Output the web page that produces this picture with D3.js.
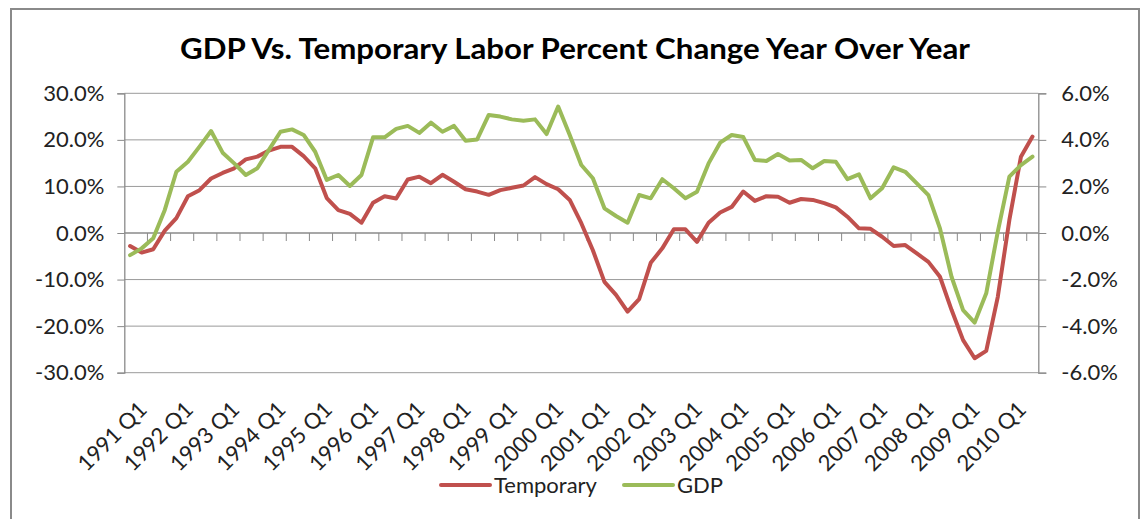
<!DOCTYPE html>
<html>
<head>
    <title>GDP Vs. Temporary Labor Percent Change Year Over Year</title>
    <script src="https://d3js.org/d3.v7.min.js"></script>
    <style>
        body { margin: 0; background: white; }
        svg { display: block; }
        .tick text, .lbl { font-family: Lato, 'Open Sans', sans-serif; fill: #222; }
        .grid { stroke: #9a9a9a; stroke-width: 1px; }
    </style>
</head>
<body>
    <svg width="1144" height="519"></svg>
    <script>
        // quarters 1991 Q1 .. 2010 Q3
        const years = d3.range(1991, 2011);
        const quarters = [];
        years.forEach(y => [1, 2, 3, 4].forEach(q => quarters.push(y + " Q" + q)));
        quarters.length = 79;

        // Temporary labor, % change y/y (left axis)
        const temporary = [
            -2.8, -4.2, -3.5, 0.5, 3.2, 7.9, 9.2, 11.7, 12.9, 13.9,
            15.8, 16.4, 17.7, 18.5, 18.5, 16.5, 13.9, 7.5, 4.9, 4.1,
            2.2, 6.5, 7.9, 7.4, 11.5, 12.1, 10.7, 12.5, 11.0, 9.4,
            8.9, 8.2, 9.2, 9.7, 10.2, 12.0, 10.5, 9.4, 7.1, 2.1,
            -3.7, -10.5, -13.3, -16.9, -14.2, -6.4, -3.3, 0.8, 0.8, -1.9,
            2.2, 4.4, 5.6, 8.9, 6.9, 7.9, 7.8, 6.5, 7.3, 7.1,
            6.4, 5.5, 3.5, 1.0, 0.9, -0.8, -2.8, -2.6, -4.4, -6.2,
            -9.4, -16.5, -23.0, -26.9, -25.3, -13.7, 2.8, 16.4, 20.7
        ];

        // GDP, % change y/y (right axis)
        const gdp = [
            -0.95, -0.66, -0.23, 0.99, 2.63, 3.06, 3.71, 4.38, 3.45, 2.99,
            2.49, 2.78, 3.57, 4.35, 4.45, 4.21, 3.49, 2.28, 2.49, 2.02,
            2.49, 4.11, 4.11, 4.47, 4.60, 4.30, 4.74, 4.35, 4.60, 3.96,
            4.02, 5.07, 5.00, 4.88, 4.82, 4.88, 4.25, 5.43, 4.21, 2.92,
            2.35, 1.06, 0.73, 0.44, 1.63, 1.49, 2.31, 1.92, 1.49, 1.77,
            2.99, 3.88, 4.21, 4.12, 3.14, 3.09, 3.39, 3.11, 3.14, 2.78,
            3.09, 3.06, 2.31, 2.52, 1.49, 1.92, 2.82, 2.63, 2.13, 1.63,
            0.20, -1.88, -3.31, -3.85, -2.59, 0.06, 2.42, 2.92, 3.28
        ];

        const leftTicks = [-30, -20, -10, 0, 10, 20, 30];
        const rightTicks = [-6, -4, -2, 0, 2, 4, 6];

        const svg = d3.select("svg");
        const plot = { left: 124.3, right: 1038.3, top: 93.3, bottom: 372.7 };

        const x = d3.scaleBand().domain(quarters).range([plot.left, plot.right]).padding(0);
        const yL = d3.scaleLinear().domain([-30, 30]).range([plot.bottom, plot.top]);
        const yR = d3.scaleLinear().domain([-6, 6]).range([plot.bottom, plot.top]);
        const cx = q => x(q) + x.bandwidth() / 2;

        // outer frame
        svg.append("rect")
            .attr("x", 11).attr("y", 9)
            .attr("width", 1128).attr("height", 530)
            .attr("fill", "white")
            .attr("stroke", "#8a8a8a")
            .attr("stroke-width", 2);

        // title
        svg.append("text")
            .attr("class", "lbl")
            .attr("x", 575).attr("y", 59)
            .attr("text-anchor", "middle")
            .attr("textLength", 790)
            .attr("lengthAdjust", "spacingAndGlyphs")
            .style("font-size", "29px")
            .style("font-weight", "bold")
            .style("fill", "#000")
            .text("GDP Vs. Temporary Labor Percent Change Year Over Year");

        // gridlines
        svg.append("g")
            .selectAll("line")
            .data(leftTicks.filter(d => d !== 0))
            .enter().append("line")
            .attr("class", "grid")
            .attr("x1", plot.left).attr("x2", plot.right)
            .attr("y1", d => yL(d)).attr("y2", d => yL(d));

        const fmt = d => d.toFixed(1) + "%";

        // left axis
        const gL = svg.append("g")
            .attr("transform", `translate(${plot.left},0)`)
            .call(d3.axisLeft(yL).tickValues(leftTicks).tickFormat(fmt).tickSize(7).tickPadding(13));

        // right axis
        const gR = svg.append("g")
            .attr("transform", `translate(${plot.right},0)`)
            .call(d3.axisRight(yR).tickValues(rightTicks).tickFormat(fmt).tickSize(8).tickPadding(15));

        [gL, gR].forEach(g => {
            g.select(".domain").attr("stroke", "#8a8a8a").attr("stroke-width", 1.3);
            g.selectAll(".tick line").attr("stroke", "#8a8a8a");
            g.selectAll(".tick text").style("font-size", "22px");
        });

        // category axis at zero
        const y0 = yL(0);
        const gX = svg.append("g");
        gX.append("line")
            .attr("x1", plot.left).attr("x2", plot.right)
            .attr("y1", y0).attr("y2", y0)
            .attr("stroke", "#8a8a8a").attr("stroke-width", 1.3);
        gX.selectAll("line.tk")
            .data(quarters.filter((q, i) => i % 2 === 0 && i > 0))
            .enter().append("line")
            .attr("class", "tk")
            .attr("x1", d => x(d)).attr("x2", d => x(d))
            .attr("y1", y0).attr("y2", y0 + 8)
            .attr("stroke", "#8a8a8a");

        // rotated category labels
        svg.append("g")
            .selectAll("text")
            .data(quarters.filter((q, i) => i % 4 === 0))
            .enter().append("text")
            .attr("class", "lbl")
            .attr("transform", d => `translate(${cx(d) + 7},${plot.bottom + 27}) rotate(-45)`)
            .attr("text-anchor", "end")
            .attr("dy", "0.72em")
            .style("font-size", "22px")
            .text(d => d);

        // series lines
        const lineL = d3.line().x((d, i) => cx(quarters[i])).y(d => yL(d));
        const lineR = d3.line().x((d, i) => cx(quarters[i])).y(d => yR(d));

        svg.append("path")
            .datum(temporary)
            .attr("d", lineL)
            .attr("fill", "none")
            .attr("stroke", "#C0504D")
            .attr("stroke-width", 4)
            .attr("stroke-linejoin", "round")
            .attr("stroke-linecap", "round");

        svg.append("path")
            .datum(gdp)
            .attr("d", lineR)
            .attr("fill", "none")
            .attr("stroke", "#9BBB59")
            .attr("stroke-width", 4)
            .attr("stroke-linejoin", "round")
            .attr("stroke-linecap", "round");

        // legend
        const legend = [
            { name: "Temporary", color: "#C0504D", x: 441 },
            { name: "GDP", color: "#9BBB59", x: 624 }
        ];
        const lg = svg.append("g")
            .selectAll("g")
            .data(legend)
            .enter().append("g")
            .attr("transform", d => `translate(${d.x},485)`);
        lg.append("line")
            .attr("x1", 0).attr("x2", 49)
            .attr("stroke", d => d.color)
            .attr("stroke-width", 4)
            .attr("stroke-linecap", "round");
        lg.append("text")
            .attr("class", "lbl")
            .attr("x", 53)
            .attr("dy", "0.36em")
            .style("font-size", "22px")
            .text(d => d.name);
    </script>
</body>
</html>
